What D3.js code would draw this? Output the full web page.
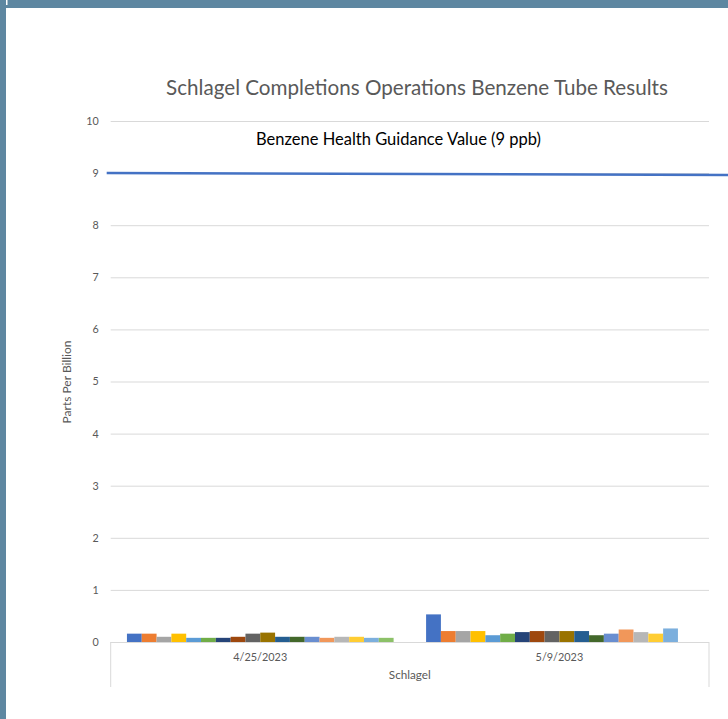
<!DOCTYPE html>
<html>
<head>
<meta charset="utf-8">
<script src="https://cdn.jsdelivr.net/npm/d3@7"></script>
<style>
  html, body { margin: 0; padding: 0; background: #fff; }
  svg { display: block; }
</style>
</head>
<body>
<script>
// ---------- DATA ----------
const categories = ["4/25/2023", "5/9/2023"];
const seriesNames = ["S1","S2","S3","S4","S5","S6","S7","S8","S9","S10","S11","S12","S13","S14","S15","S16","S17","S18"];
const values_0425 = [0.16,0.16,0.10,0.16,0.08,0.08,0.08,0.10,0.16,0.18,0.10,0.10,0.10,0.08,0.10,0.10,0.08,0.08];
const values_0509 = [0.53,0.21,0.21,0.21,0.13,0.16,0.19,0.21,0.21,0.21,0.21,0.13,0.16,0.24,0.19,0.16,0.26,0];
const seriesColors = ["#4472C4","#ED7D31","#A5A5A5","#FFC000","#5B9BD5","#70AD47","#264478","#9E480E","#636363","#997300","#255E91","#43682B","#698ED0","#F1975A","#B7B7B7","#FFCD33","#7CAFDD","#8CC168"];
const yTicks = [0,1,2,3,4,5,6,7,8,9,10];
const guidanceLine = [{t: 0, v: 9.0}, {t: 1, v: 8.965}];
const titleText = "Schlagel Completions Operations Benzene Tube Results";
const guidanceLabel = "Benzene Health Guidance Value (9 ppb)";
const yAxisTitle = "Parts Per Billion";
const xAxisTitle = "Schlagel";

// ---------- LAYOUT ----------
const W = 728, H = 719;
const plot = {left: 110.7, right: 709, top: 121, bottom: 642};
const FONT = "Lato, 'Open Sans', sans-serif";

const svg = d3.select("body").append("svg").attr("width", W).attr("height", H);
svg.append("rect").attr("width", W).attr("height", H).attr("fill", "#fff");

// frame border (top and left)
svg.append("rect").attr("x", 0).attr("y", 0).attr("width", W).attr("height", 8).attr("fill", "#5E87A1");
svg.append("rect").attr("x", 0).attr("y", 0).attr("width", 6).attr("height", H).attr("fill", "#5E87A1");
svg.append("rect").attr("x", 6).attr("y", 0).attr("width", 1.5).attr("height", 5).attr("fill", "#fff");

function fitText(sel, target) {
  const w = sel.node().getComputedTextLength();
  const fs = parseFloat(sel.attr("font-size"));
  sel.attr("font-size", fs * target / w);
}

const y = d3.scaleLinear().domain([0, 10]).range([plot.bottom, plot.top]);
const x0 = d3.scaleBand().domain(categories).range([plot.left, plot.right]).paddingInner(0.1086).paddingOuter(0.0543);
const x1 = d3.scaleBand().domain(seriesNames).range([0, x0.bandwidth()]).padding(0);

// gridlines + tick labels
const yAxis = d3.axisLeft(y).tickValues(yTicks).tickSize(-(plot.right - plot.left)).tickPadding(12);
const gy = svg.append("g").attr("transform", `translate(${plot.left},0)`).call(yAxis);
gy.select(".domain").remove();
gy.selectAll(".tick line").attr("stroke", "#D9D9D9").attr("stroke-width", 1);
gy.selectAll(".tick text").attr("fill", "#595959").attr("font-family", FONT).attr("font-size", 9.5);
// size tick labels so "10" is ~13px wide like the reference
{
  const t10 = gy.selectAll(".tick text").filter(d => d === 10);
  const w = t10.node().getComputedTextLength();
  gy.selectAll(".tick text").attr("font-size", 9.5 * 12.5 / w);
}

// bars
const data = [values_0425, values_0509];
const groups = svg.append("g").selectAll("g").data(categories).join("g")
  .attr("transform", d => `translate(${x0(d)},0)`);
groups.selectAll("rect").data((d, i) => data[i].map((v, j) => ({v, s: seriesNames[j], c: seriesColors[j]})))
  .join("rect")
  .attr("x", d => x1(d.s))
  .attr("width", x1.bandwidth())
  .attr("y", d => y(d.v))
  .attr("height", d => y(0) - y(d.v))
  .attr("fill", d => d.c);

// category axis box
const axisColor = "#D9D9D9";
svg.append("line").attr("x1", plot.left).attr("x2", plot.right).attr("y1", y(0) + 0.5).attr("y2", y(0) + 0.5).attr("stroke", axisColor);
svg.append("line").attr("x1", plot.left).attr("x2", plot.left).attr("y1", y(0)).attr("y2", 687).attr("stroke", axisColor);
svg.append("line").attr("x1", plot.right).attr("x2", plot.right).attr("y1", y(0)).attr("y2", 687).attr("stroke", axisColor);

const catLabels = svg.append("g").selectAll("text").data(categories).join("text")
  .attr("x", d => x0(d) + x0.bandwidth() / 2)
  .attr("y", 661)
  .attr("text-anchor", "middle")
  .attr("fill", "#595959").attr("font-family", FONT).attr("font-size", 9.5)
  .text(d => d);
fitText(catLabels.filter((d, i) => i === 0), 54);
catLabels.attr("font-size", catLabels.filter((d, i) => i === 0).attr("font-size"));

const xt = svg.append("text").attr("x", (plot.left + plot.right) / 2).attr("y", 679)
  .attr("text-anchor", "middle").attr("fill", "#595959").attr("font-family", FONT).attr("font-size", 9.5)
  .text(xAxisTitle);
fitText(xt, 42);

// guidance line
const xl = d3.scaleLinear().domain([0, 1]).range([plot.left - 4, W]);
svg.append("path").datum(guidanceLine)
  .attr("d", d3.line().x(d => xl(d.t)).y(d => y(d.v)))
  .attr("stroke", "#4472C4").attr("stroke-width", 2.5).attr("fill", "none");

// title
const title = svg.append("text").attr("x", 417).attr("y", 95)
  .attr("text-anchor", "middle").attr("fill", "#595959").attr("font-family", FONT).attr("font-size", 18.5)
  .text(titleText);
fitText(title, 502);

const gl = svg.append("text").attr("x", 398.5).attr("y", 145)
  .attr("text-anchor", "middle").attr("fill", "#000").attr("font-family", FONT).attr("font-size", 13)
  .text(guidanceLabel);
fitText(gl, 285);

// y axis title
const yt = svg.append("text").attr("transform", "translate(71,382) rotate(-90)")
  .attr("text-anchor", "middle").attr("fill", "#595959").attr("font-family", FONT).attr("font-size", 9.5)
  .text(yAxisTitle);
fitText(yt, 83);
</script>
</body>
</html>
